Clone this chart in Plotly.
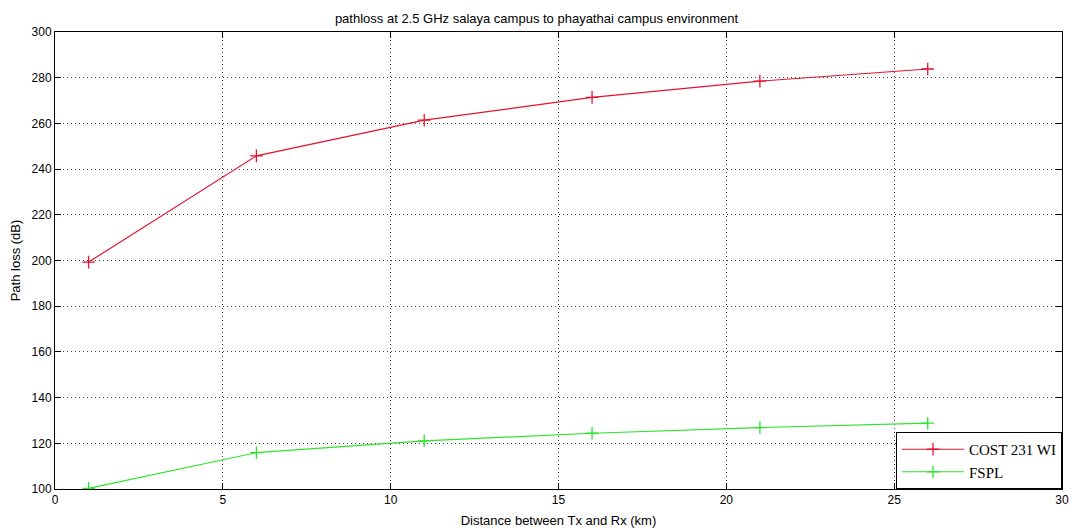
import plotly.graph_objects as go

# Distance between transmitter and receiver (km)
distance_km = [1, 6, 11, 16, 21, 26]

# Path loss predictions (dB)
cost231_wi = [199.3, 245.8, 261.4, 271.4, 278.5, 283.8]
fspl = [100.3, 115.9, 121.1, 124.4, 126.9, 128.8]

x_ticks = [0, 5, 10, 15, 20, 25, 30]
y_ticks = [100, 120, 140, 160, 180, 200, 220, 240, 260, 280, 300]

RED = "#e3132f"
GREEN = "#2be62b"
SANS = "Liberation Sans, Arial, sans-serif"

fig = go.Figure()

fig.add_trace(go.Scatter(
    x=distance_km, y=cost231_wi, name="COST 231 WI",
    mode="lines+markers",
    line=dict(color=RED, width=1.2),
    marker=dict(symbol="cross-thin", size=9, line=dict(color=RED, width=1.3)),
))
fig.add_trace(go.Scatter(
    x=distance_km, y=fspl, name="FSPL",
    mode="lines+markers",
    line=dict(color=GREEN, width=1.2),
    marker=dict(symbol="cross-thin", size=9, line=dict(color=GREEN, width=1.3)),
))

axis_common = dict(
    showline=True, linecolor="black", linewidth=1, mirror="ticks",
    ticks="inside", ticklen=6, tickcolor="black", tickwidth=1,
    showgrid=True, gridcolor="#444444", griddash="1px,3px", gridwidth=1,
    zeroline=False, automargin=False,
    tickfont=dict(family=SANS, size=12, color="black"),
    title_font=dict(family=SANS, size=13, color="black"),
)

fig.update_xaxes(
    range=[0, 30], tickvals=x_ticks,
    title_text="Distance between Tx and Rx (km)", title_standoff=10,
    **axis_common,
)
fig.update_yaxes(
    range=[100, 300], tickvals=y_ticks,
    title_text="Path loss (dB)", title_standoff=8,
    **axis_common,
)

fig.update_layout(
    width=1073, height=528,
    margin=dict(l=55, r=11, t=32, b=39),
    paper_bgcolor="white", plot_bgcolor="white",
    title=dict(
        text="pathloss at 2.5 GHz salaya campus to phayathai campus environment",
        x=0.5, xanchor="center", y=0.966, yanchor="middle",
        font=dict(family=SANS, size=13, color="black"),
    ),
    legend=dict(
        x=1, y=0, xanchor="right", yanchor="bottom",
        bgcolor="white", bordercolor="black", borderwidth=1,
        font=dict(family="Liberation Serif, Times New Roman, serif", size=15, color="black"),
        itemwidth=62, tracegroupgap=0,
    ),
)

fig.write_html("out.html")
